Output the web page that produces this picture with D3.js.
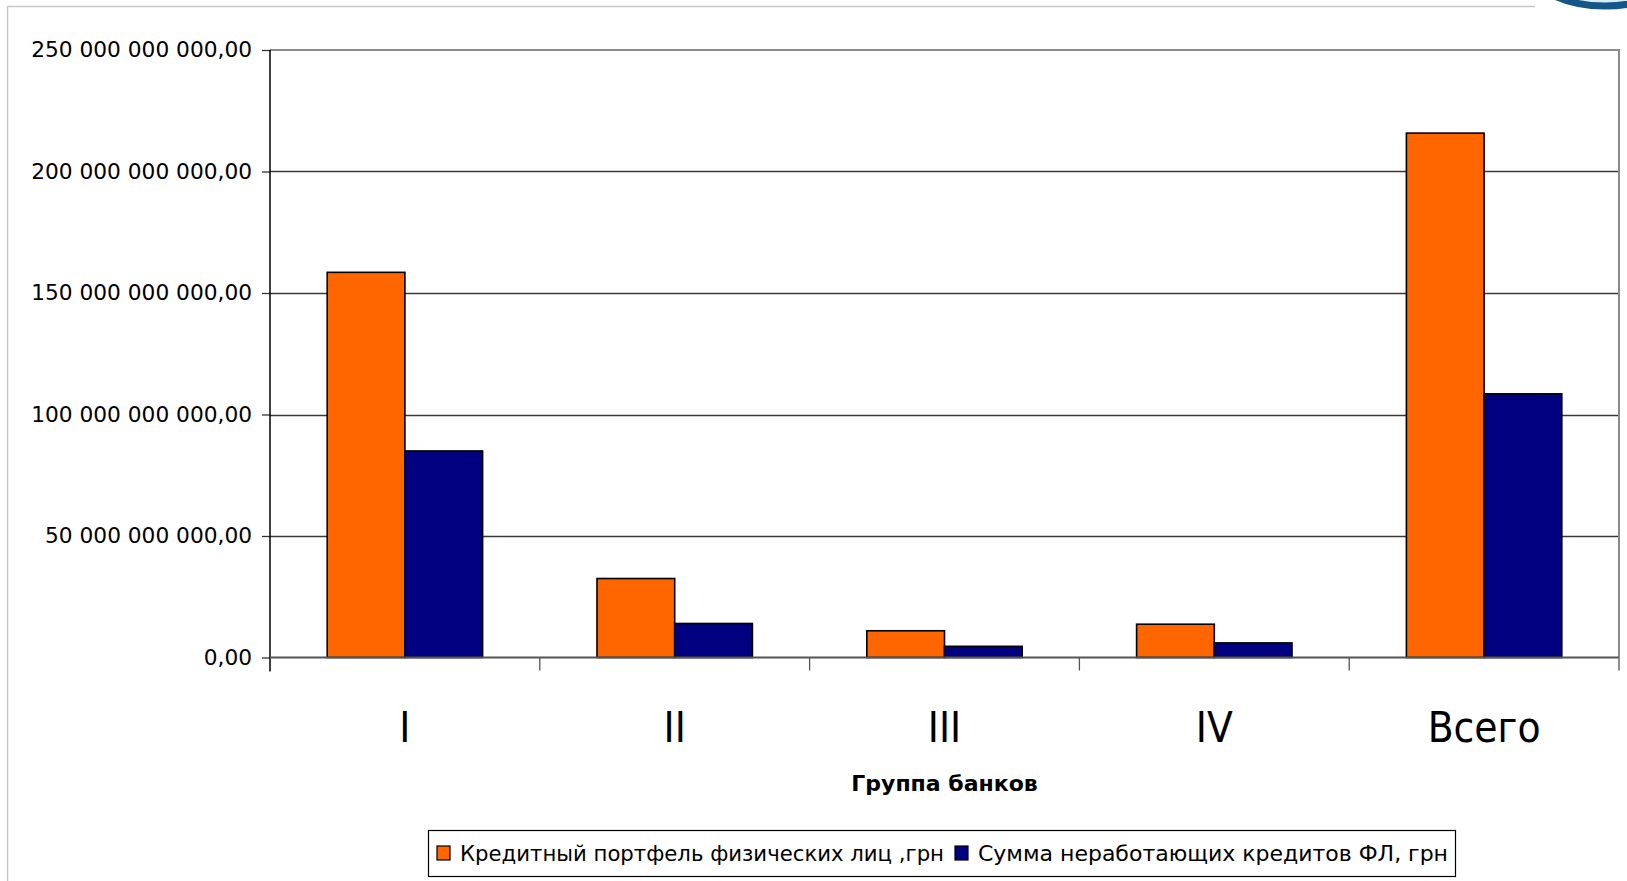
<!DOCTYPE html>
<html>
<head>
<meta charset="utf-8">
<script src="https://cdn.jsdelivr.net/npm/d3@7"></script>
<style>
  body { margin: 0; background: #fff; }
  #graph { width: 1627px; height: 881px; }
  .ytick-label { font-family: "DejaVu Sans", sans-serif; font-size: 21.7px; fill: #000; }
  .xtick-label { font-family: "DejaVu Sans Condensed", "DejaVu Sans", sans-serif; font-stretch: condensed; font-size: 42px; fill: #000; }
  .axis-title { font-family: "DejaVu Sans", sans-serif; font-weight: bold; font-size: 22px; }
  .legend-text { font-family: "DejaVu Sans Condensed", "DejaVu Sans", sans-serif; font-stretch: condensed; font-size: 22px; }
</style>
</head>
<body>
<div id="graph"></div>
<script>
//Chart data.
const groups = ["I", "II", "III", "IV", "Всего"];
const seriesNames = ["Кредитный портфель физических лиц ,грн", "Сумма неработающих кредитов ФЛ, грн"];
const portfolio = [158.5e9, 32.5e9, 11e9, 13.7e9, 215.8e9];
const nonPerforming = [85e9, 14e9, 4.6e9, 6e9, 108.5e9];
const yTicks = [0, 50e9, 100e9, 150e9, 200e9, 250e9];
const seriesColors = ["#ff6600", "#000080"];

//Dimensions of the page and the plot area.
let w = 1627;
let h = 881;
let plotLeft = 270;
let plotRight = 1619;
let plotTop = 50;
let plotBottom = 657.5;

let xScale
let xInner
let yScale

const svg = d3.select('#graph')
  .append("svg")
  .attr("width", w)
  .attr("height", h)

const numFormat = d3.formatLocale({decimal: ",", thousands: " ", grouping: [3], currency: ["", ""]}).format(",.2f");

getScales();
drawFrame();
drawGrid();
drawBars();
drawAxis();
drawLegend();

function getScales() {
  xScale = d3.scaleBand()
    .domain(groups)
    .range([plotLeft, plotRight])
    .padding(0)

  //Bars fill the middle of each group, leaving about a fifth empty on each side.
  xInner = d3.scaleBand()
    .domain([0, 1])
    .range([xScale.bandwidth() * 0.212, xScale.bandwidth() * 0.788])
    .padding(0)

  yScale = d3.scaleLinear()
    .domain([0, 250e9])
    .range([plotBottom, plotTop])
}

//Outer slide frame and the logo swoosh in the corner.
function drawFrame() {
  svg.append("path")
    .attr("d", "M7.5," + h + " V6.5 H1535")
    .attr("fill", "none")
    .attr("stroke", "#c8c8c8")
    .attr("stroke-width", 1.5)

  svg.append("ellipse")
    .attr("cx", 1605)
    .attr("cy", -34)
    .attr("rx", 76)
    .attr("ry", 40)
    .attr("fill", "#d8ecf5")
    .attr("stroke", "#14558a")
    .attr("stroke-width", 7)
}

function drawGrid() {
  svg.append("g")
    .selectAll("line")
    .data(yTicks.slice(1, -1))
    .enter()
    .append("line")
    .attr("x1", plotLeft)
    .attr("x2", plotRight)
    .attr("y1", (d) => Math.round(yScale(d)) + 0.5)
    .attr("y2", (d) => Math.round(yScale(d)) + 0.5)
    .attr("stroke", "#3a3a3a")
    .attr("stroke-width", 1.3)

  //Top and right borders of the plot.
  svg.append("path")
    .attr("d", "M" + plotLeft + "," + plotTop + " H" + plotRight + " V" + plotBottom)
    .attr("fill", "none")
    .attr("stroke", "#8a8a8a")
    .attr("stroke-width", 2)
}

function drawBars() {
  const series = [portfolio, nonPerforming];
  series.forEach((values, i) => {
    svg.append("g")
      .selectAll("rect")
      .data(values)
      .enter()
      .append("rect")
      .attr("x", (d, j) => xScale(groups[j]) + xInner(i))
      .attr("width", xInner.bandwidth())
      .attr("y", (d) => yScale(d))
      .attr("height", (d) => yScale(0) - yScale(d))
      .attr("fill", seriesColors[i])
      .attr("stroke", "#000")
      .attr("stroke-width", 1.6)
  })
}

function drawAxis() {
  const yAxis = d3.axisLeft(yScale)
    .tickValues(yTicks)
    .tickFormat(numFormat)
    .tickSizeInner(8)
    .tickSizeOuter(0)
    .tickPadding(10)

  const yg = svg.append("g")
    .attr("transform", "translate(" + plotLeft + ",0)")
    .call(yAxis)
  yg.select(".domain").remove()
  yg.selectAll("line").attr("stroke", "#333").attr("stroke-width", 1.3)
  yg.attr("font-size", null).attr("font-family", null)
  yg.selectAll("text").attr("class", "ytick-label")

  //Vertical axis line, running a little below zero.
  svg.append("line")
    .attr("x1", plotLeft).attr("x2", plotLeft)
    .attr("y1", plotTop).attr("y2", plotBottom + 14)
    .attr("stroke", "#000")
    .attr("stroke-width", 1.5)

  //Horizontal axis with ticks between the groups.
  svg.append("line")
    .attr("x1", plotLeft).attr("x2", plotRight)
    .attr("y1", plotBottom).attr("y2", plotBottom)
    .attr("stroke", "#555")
    .attr("stroke-width", 2)

  const bounds = groups.map((g) => xScale(g)).concat([plotRight]);
  svg.append("g")
    .selectAll("line")
    .data(bounds.slice(1))
    .enter()
    .append("line")
    .attr("x1", (d) => d).attr("x2", (d) => d)
    .attr("y1", plotBottom).attr("y2", plotBottom + 13)
    .attr("stroke", "#555")
    .attr("stroke-width", 1.3)

  svg.append("g")
    .selectAll("text")
    .data(groups)
    .enter()
    .append("text")
    .attr("class", "xtick-label")
    .attr("x", (d) => xScale(d) + xScale.bandwidth() / 2)
    .attr("y", plotBottom + 84)
    .attr("text-anchor", "middle")
    .text((d) => d)

  svg.append("text")
    .attr("class", "axis-title")
    .attr("x", (plotLeft + plotRight) / 2)
    .attr("y", 791)
    .attr("text-anchor", "middle")
    .text("Группа банков")
}

function drawLegend() {
  const legend = svg.append("g")
    .attr("id", "legend")

  legend.append("rect")
    .attr("x", 428.5)
    .attr("y", 830.5)
    .attr("width", 1027)
    .attr("height", 46)
    .attr("fill", "#fff")
    .attr("stroke", "#000")
    .attr("stroke-width", 1.2)

  //The legend font is wider than anything installed, so the runs are stretched to fit.
  const itemX = [437, 955];
  const textWidth = [484, 470];
  seriesNames.forEach((name, i) => {
    legend.append("rect")
      .attr("x", itemX[i])
      .attr("y", 846)
      .attr("width", 13)
      .attr("height", 14)
      .attr("fill", seriesColors[i])
      .attr("stroke", "#000")
      .attr("stroke-width", 1.2)

    legend.append("text")
      .attr("class", "legend-text")
      .attr("x", itemX[i] + 23)
      .attr("y", 861)
      .attr("textLength", textWidth[i])
      .attr("lengthAdjust", "spacingAndGlyphs")
      .text(name)
  })
}
</script>
</body>
</html>
